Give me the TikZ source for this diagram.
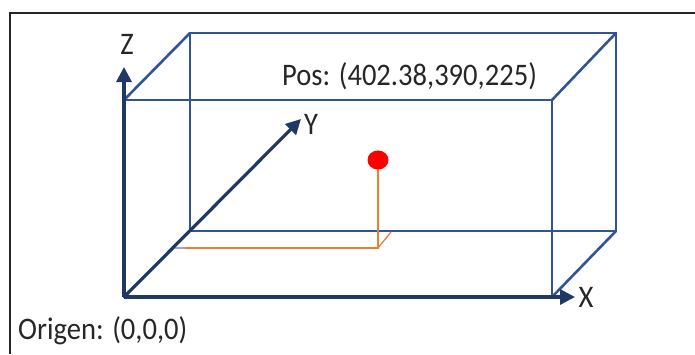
\documentclass[tikz,border=0pt]{standalone}
\usepackage{fontspec}
\setmainfont{Carlito}
\usetikzlibrary{arrows.meta,shapes.geometric}
\definecolor{boxblue}{HTML}{2F5597}
\definecolor{axisblue}{HTML}{203864}
\definecolor{orangeln}{HTML}{ED7D31}
\definecolor{lightblue}{HTML}{8FAADC}
\definecolor{txt}{HTML}{262626}
\newcommand{\tall}[1]{\scalebox{1.02}[1.12]{#1}}
\tikzset{
  boxedge/.style={draw=boxblue, line width=2.6pt},
  axis/.style={draw=axisblue, line width=3.2pt, -{Triangle[width=15pt,length=15pt]}},
  proj/.style={draw=orangeln, line width=1.3pt},
  lbl/.style={inner sep=0pt, text=txt, font=\fontsize{28}{34}\selectfont},
  frameln/.style={draw=black!85, line width=1.5pt}
}
\begin{document}
\begin{tikzpicture}[x=1pt,y=-1pt]
\useasboundingbox (0,0) rectangle (695,354);
% outer frame
\coordinate (fbl) at (10,354);
\coordinate (ftl) at (10,13);
\coordinate (ftr) at (695,13);
\draw[frameln] (fbl) -- (ftl) -- (ftr);
% box corners
\coordinate (O) at (124,297);
\coordinate (A) at (552,297);
\coordinate (B) at (552,100);
\coordinate (C) at (124,100);
\coordinate (D) at (190,231);
\coordinate (E) at (616,231);
\coordinate (F) at (616,33);
\coordinate (G) at (190,33);
% box
\draw[boxedge] (O) -- (A) -- (B) -- (C) -- cycle;
\draw[boxedge] (D) -- (E) -- (F) -- (G) -- cycle;
\draw[boxedge] (A) -- (E);
\draw[boxedge] (B) -- (F);
\draw[boxedge] (C) -- (G);
% projection lines
\coordinate (P) at (378,160);
\coordinate (Pf) at (378,248);
\coordinate (Pb) at (391,232);
\coordinate (Pl) at (185,248);
\coordinate (Pl2) at (172,248);
\draw[proj] (P) -- (Pf) -- (Pl);
\draw[proj] (Pf) -- (Pb);
\draw[draw=lightblue, line width=1.3pt] (Pl) -- (Pl2);
% point
\node[draw=none, fill=red, ellipse, minimum width=21pt, minimum height=19pt, inner sep=0pt] (pt) at (P) {};
% axes
\coordinate (xt) at (575,297);
\coordinate (yt) at (301,119);
\coordinate (zt) at (124,67);
\draw[axis] (O) -- (xt);
\draw[axis] (O) -- (yt);
\draw[axis] (O) -- (zt);
% labels
\node[lbl] (xl) at (586,297) {\tall{X}};
\node[lbl] (yl) at (311,124) {\tall{Y}};
\node[lbl] (zl) at (127,44) {\tall{Z}};
\node[lbl, anchor=base west] (pos) at (282,85) {\tall{Pos: (402.38,390,225)}};
\node[lbl, anchor=base west] (orig) at (18,339) {\tall{Origen: (0,0,0)}};
\end{tikzpicture}
\end{document}
